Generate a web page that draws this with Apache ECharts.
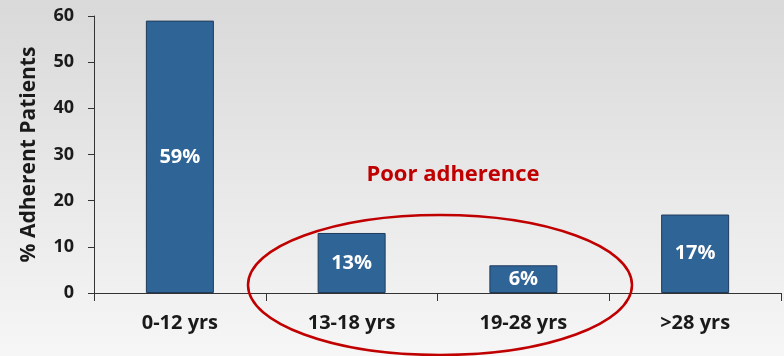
<!DOCTYPE html>
<html>
<head>
<meta charset="utf-8">
<script src="https://cdn.jsdelivr.net/npm/echarts@6/dist/echarts.min.js"></script>
<style>
  html, body { margin: 0; padding: 0; }
  #chart { width: 784px; height: 356px; }
</style>
</head>
<body>
<div id="chart"></div>
<script>
// Age groups and share of adherent patients (%)
const ageGroups = ['0-12 yrs', '13-18 yrs', '19-28 yrs', '>28 yrs'];
const adherentPct = [59, 13, 6, 17];
const yTicks = [0, 10, 20, 30, 40, 50, 60];

const chart = echarts.init(document.getElementById('chart'));
const font = '"Open Sans", Lato, sans-serif';

chart.setOption({
  animation: false,
  backgroundColor: {
    type: 'linear', x: 0, y: 0, x2: 0, y2: 1,
    colorStops: [
      { offset: 0, color: '#d9d9d9' },
      { offset: 1, color: '#f6f6f6' }
    ]
  },
  grid: { left: 94, right: 3, top: 16, bottom: 63 },
  xAxis: {
    type: 'category',
    data: ageGroups,
    axisLine: { lineStyle: { color: '#333', width: 1 } },
    axisTick: { show: true, length: 8, lineStyle: { color: '#333' } },
    axisLabel: {
      color: '#1a1a1a', fontFamily: font, fontWeight: 'bold', fontSize: 20, margin: 20
    }
  },
  yAxis: {
    type: 'value',
    min: yTicks[0],
    max: yTicks[yTicks.length - 1],
    interval: 10,
    name: '% Adherent Patients',
    nameLocation: 'middle',
    nameGap: 54,
    nameTextStyle: { color: '#1a1a1a', fontFamily: font, fontWeight: 'bold', fontSize: 21 },
    axisLine: { show: true, lineStyle: { color: '#333', width: 1 } },
    axisTick: { show: true, length: 6, lineStyle: { color: '#333' } },
    splitLine: { show: false },
    axisLabel: {
      color: '#1a1a1a', fontFamily: font, fontWeight: 'bold', fontSize: 18, margin: 20
    }
  },
  series: [{
    type: 'bar',
    data: adherentPct,
    barWidth: 68,
    itemStyle: { color: '#2f6497', borderColor: '#1f3b5c', borderWidth: 1 },
    label: {
      show: true,
      position: 'inside',
      formatter: '{c}%',
      color: '#ffffff',
      fontFamily: font,
      fontWeight: 'bold',
      fontSize: 20
    }
  }],
  graphic: [
    {
      type: 'ellipse',
      shape: { cx: 440, cy: 285, rx: 192, ry: 70 },
      style: { fill: null, stroke: '#c00000', lineWidth: 2.5 },
      z: 10
    },
    {
      type: 'text',
      x: 453, y: 175,
      style: {
        text: 'Poor adherence',
        fill: '#c00000',
        font: 'bold 22px ' + font,
        textAlign: 'center',
        textVerticalAlign: 'middle'
      },
      z: 10
    }
  ]
});
</script>
</body>
</html>
